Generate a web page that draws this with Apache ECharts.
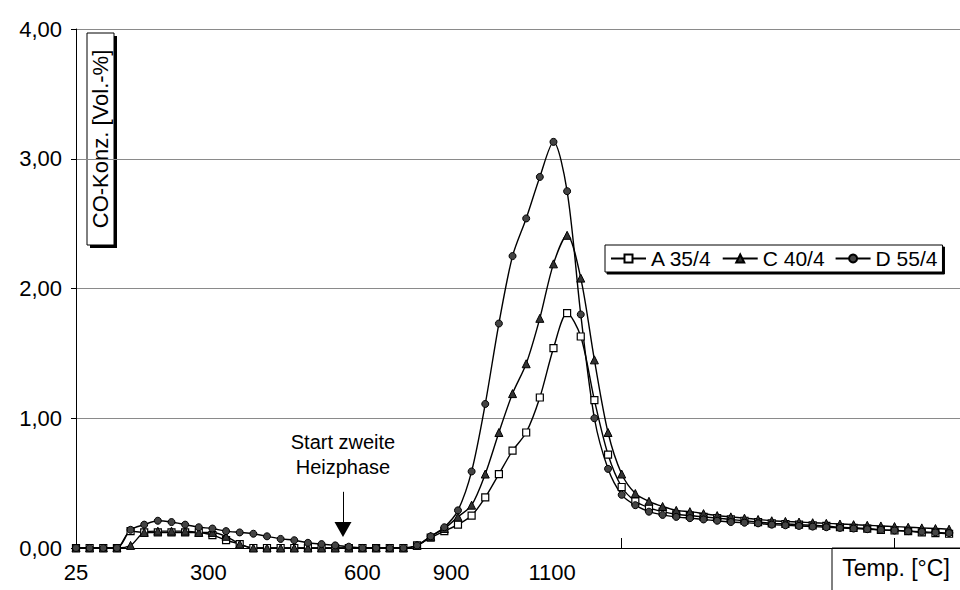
<!DOCTYPE html>
<html><head><meta charset="utf-8">
<script src="https://cdn.jsdelivr.net/npm/echarts@6/dist/echarts.min.js"></script>
<style>html,body{margin:0;padding:0;background:#fff}#c{width:960px;height:590px}</style>
</head><body><div id="c"></div>
<script>
// ---- data ----
const seriesNames = ['A 35/4', 'C 40/4', 'D 55/4'];
// one value per measurement step (index 0..64)
const valuesA = [0,0,0,0,0.13,0.12,0.12,0.12,0.12,0.12,0.10,0.06,0.03,0,
  0,0,0,0,0,0,0,0,0,0,0,0.02,0.08,0.13,0.18,0.25,0.39,0.57,0.75,0.89,1.16,1.54,1.81,1.63,1.14,0.72,0.47,0.36,
  0.31,0.28,0.26,0.25,0.24,0.23,0.22,0.21,0.20,0.19,0.185,0.18,0.175,0.17,0.16,0.155,0.15,0.14,0.135,0.13,0.12,0.115,0.11];
const valuesC = [0,0,0,0,0.02,0.12,0.13,0.13,0.13,0.12,0.12,0.09,0.03,0,
  0,0,0,0,0,0,0,0,0,0,0,0.02,0.09,0.15,0.24,0.33,0.57,0.89,1.19,1.42,1.77,2.19,2.41,2.08,1.45,0.89,0.57,0.42,
  0.36,0.32,0.29,0.28,0.265,0.25,0.24,0.23,0.22,0.21,0.205,0.20,0.195,0.19,0.185,0.18,0.175,0.17,0.165,0.16,0.155,0.15,0.145];
const valuesD = [0,0,0,0,0.14,0.18,0.21,0.20,0.18,0.16,0.15,0.13,0.12,0.11,
  0.09,0.07,0.06,0.04,0.03,0.02,0.01,0,0,0,0,0.02,0.09,0.16,0.29,0.59,1.11,1.73,2.25,2.54,2.86,3.13,2.75,1.80,1.00,0.61,0.41,0.33,
  0.28,0.255,0.24,0.23,0.22,0.21,0.20,0.195,0.19,0.18,0.175,0.17,0.165,0.16,0.155,0.15,0.145,0.14,0.135,0.13,0.125,0.12,0.115];
const xTickLabels = ['25', '300', '600', '900', '1100'];
const xTickPositions = [0, 9.7, 21, 27.5, 34.9];
const xExtraTicks = [40, 60];
const annotationText = 'Start zweite\nHeizphase';
const annotationPos = 19.57;
const yTitle = 'CO-Konz. [Vol.-%]';
const xTitle = 'Temp. [°C]';

const FONT = '"Liberation Sans", Arial, sans-serif';
const toPairs = arr => arr.map((v, i) => [i, v]);

const chart = echarts.init(document.getElementById('c'), null, {renderer: 'svg'});

const common = {
  type: 'line',
  smooth: 0.3,
  lineStyle: {color: '#000', width: 1.4},
  symbolSize: 7,
  z: 3
};

chart.setOption({
  animation: false,
  backgroundColor: '#fff',
  grid: {left: 76, right: 0, top: 29, bottom: 42},
  legend: {
    left: 605, top: 245,
    data: seriesNames,
    itemWidth: 35, itemHeight: 10, itemGap: 10,
    padding: [3, 5],
    backgroundColor: '#fff',
    borderColor: '#000', borderWidth: 1,
    shadowColor: '#000', shadowOffsetX: 2, shadowOffsetY: 2, shadowBlur: 0,
    textStyle: {fontFamily: FONT, fontSize: 21, color: '#000'}
  },
  xAxis: {
    type: 'value', min: 0, max: 64.8,
    axisLine: {show: true, lineStyle: {color: '#000', width: 1}},
    axisTick: {show: true, inside: true, length: 10, customValues: xExtraTicks, lineStyle: {color: '#000'}},
    axisLabel: {
      customValues: xTickPositions,
      formatter: v => xTickLabels[xTickPositions.indexOf(v)] || '',
      fontFamily: FONT, fontSize: 22, color: '#000', margin: 13
    },
    splitLine: {show: false}
  },
  yAxis: {
    type: 'value', min: 0, max: 4, interval: 1,
    axisLine: {show: true, lineStyle: {color: '#000', width: 1}},
    axisTick: {show: true, length: 5, lineStyle: {color: '#000'}},
    axisLabel: {
      formatter: v => v.toFixed(2).replace('.', ','),
      fontFamily: FONT, fontSize: 22, color: '#000', margin: 14
    },
    splitLine: {show: true, lineStyle: {color: '#8a8a8a', width: 1}}
  },
  series: [
    Object.assign({}, common, {
      name: seriesNames[0], data: toPairs(valuesA),
      symbol: 'rect',
      itemStyle: {color: '#fff', borderColor: '#000', borderWidth: 1.2},
      markLine: {
        silent: true,
        symbol: ['none', 'triangle'],
        symbolSize: [17, 15],
        lineStyle: {color: '#000', width: 1, type: 'solid'},
        label: {show: true, position: 'start', formatter: annotationText,
          fontFamily: FONT, fontSize: 20, lineHeight: 25, color: '#000', distance: 12},
        data: [[{coord: [annotationPos, 0.433]}, {coord: [annotationPos, 0.142]}]]
      }
    }),
    Object.assign({}, common, {
      name: seriesNames[1], data: toPairs(valuesC),
      symbol: 'triangle', symbolSize: 8,
      itemStyle: {color: '#333', borderColor: '#000', borderWidth: 1}
    }),
    Object.assign({}, common, {
      name: seriesNames[2], data: toPairs(valuesD),
      symbol: 'circle',
      itemStyle: {color: '#444', borderColor: '#000', borderWidth: 1}
    })
  ],
  graphic: [
    {type: 'rect', shape: {x: 90, y: 36, width: 27, height: 212}, style: {fill: '#000'}, silent: true},
    {type: 'rect', shape: {x: 87, y: 33, width: 27, height: 212}, style: {fill: '#fff', stroke: '#000', lineWidth: 1}, silent: true},
    {type: 'text', x: 100.5, y: 139, rotation: Math.PI / 2,
      style: {text: yTitle, font: '22px ' + FONT, fill: '#000', align: 'center', verticalAlign: 'middle'}, silent: true},
    {type: 'rect', shape: {x: 832, y: 548, width: 140, height: 50}, style: {fill: '#fff', stroke: '#000', lineWidth: 1}, silent: true},
    {type: 'text', x: 896, y: 568,
      style: {text: xTitle, font: '23px ' + FONT, fill: '#000', align: 'center', verticalAlign: 'middle'}, silent: true}
  ]
});
</script></body></html>
